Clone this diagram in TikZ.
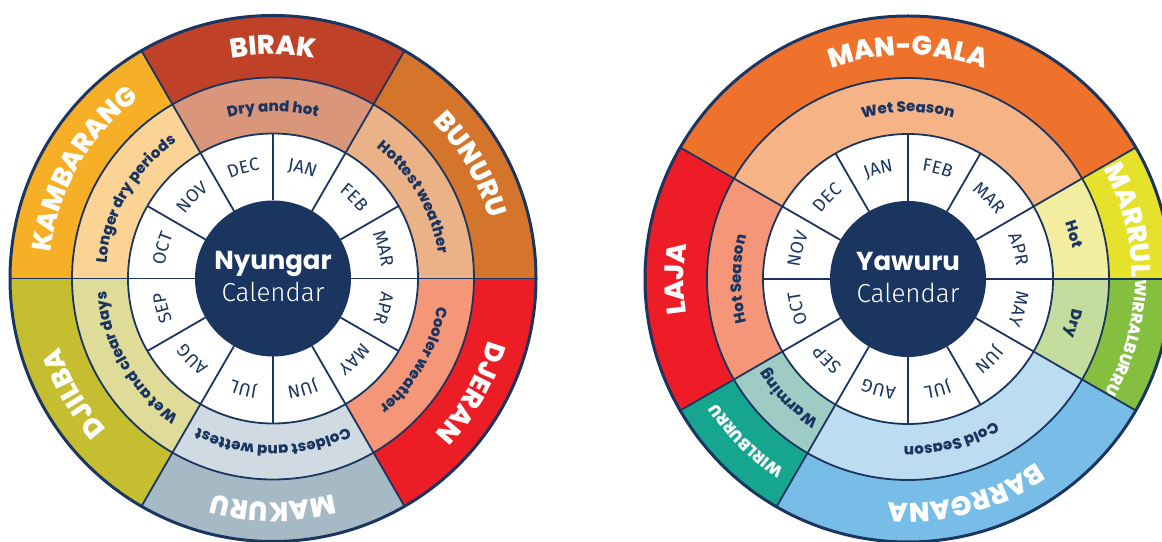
\documentclass[tikz,border=0pt]{standalone}
\usepackage{fontspec}
\setmainfont{Poppins}
\newfontfamily\heavyfamily{Poppins ExtraBold}
\newfontfamily\monthfamily{Fira Sans}
\newfontfamily\lightfamily{Fira Sans Light}
\usetikzlibrary{decorations.text}

\definecolor{navy}{HTML}{1A3660}
% Nyungar seasons
\definecolor{birak}{HTML}{BE4128}
\definecolor{bunuru}{HTML}{D5752C}
\definecolor{djeran}{HTML}{EC1D25}
\definecolor{makuru}{HTML}{A6BAC5}
\definecolor{djilba}{HTML}{C5BE31}
\definecolor{kambarang}{HTML}{F6AF27}
\definecolor{dryhot}{HTML}{D9967B}
\definecolor{hottest}{HTML}{EBB287}
\definecolor{cooler}{HTML}{F69679}
\definecolor{coldest}{HTML}{D0DAE2}
\definecolor{wetclear}{HTML}{DFDB99}
\definecolor{longerdry}{HTML}{FBD495}
% Yawuru seasons
\definecolor{mangala}{HTML}{EE712C}
\definecolor{marrul}{HTML}{E6E22B}
\definecolor{wirralburru}{HTML}{85BF40}
\definecolor{barrgana}{HTML}{78BDE8}
\definecolor{wirlburru}{HTML}{16A690}
\definecolor{laja}{HTML}{ED1C26}
\definecolor{wetseason}{HTML}{F6B386}
\definecolor{hotpale}{HTML}{F3EDA0}
\definecolor{drypale}{HTML}{C5DC9F}
\definecolor{coldseason}{HTML}{BCDCF2}
\definecolor{warming}{HTML}{9ECBC3}
\definecolor{hotseason}{HTML}{F69679}

\protected\def\namefont{\heavyfamily\fontsize{27}{27}\selectfont}
\protected\def\smallnamefont{\heavyfamily\fontsize{16}{16}\selectfont}
\protected\def\descfont{\heavyfamily\fontsize{15}{15}\selectfont}
\protected\def\monthfont{\monthfamily\fontsize{18}{18}\selectfont}

\tikzset{
  rim/.style={draw=navy, line width=3pt},
  ringline/.style={draw=navy, line width=1.8pt},
  spoke/.style={draw=navy, line width=1.8pt},
  hub/.style={circle, fill=navy, minimum size=156pt, inner sep=0pt},
  hubtitle/.style={anchor=base, text=white, font=\bfseries\fontsize{26}{26}\selectfont},
  hubsub/.style={anchor=base, text=white, font=\lightfamily\fontsize{26}{26}\selectfont},
}

% ring segment: colour, inner radius, outer radius, start angle, end angle
\newcommand{\ringpart}[5]{%
  \fill[#1] (#4:#3) arc[start angle=#4, end angle=#5, radius=#3]
    -- (#5:#2) arc[start angle=#5, end angle=#4, radius=#2] -- cycle;}

% curved text read clockwise: radius, centre angle, colour, text
\newcommand{\curvedlabel}[4]{%
  \edef\curvetxt{#4}%
  \path[decorate, decoration={text along path, text align=center,
      text color=#3, text/.expand once=\curvetxt}]
    ({#2+90}:#1) arc[start angle={#2+90}, end angle={#2-90}, radius=#1];}

\begin{document}
\begin{tikzpicture}[x=1pt, y=1pt]
\useasboundingbox (0,0) rectangle (1162,541);
\clip (0,0) rectangle (1162,541);

% Nyungar calendar
\begin{scope}[shift={(273,262.5)}]
  \ringpart{birak}{201}{263}{60}{120}
  \ringpart{bunuru}{201}{263}{0}{60}
  \ringpart{djeran}{201}{263}{-60}{0}
  \ringpart{makuru}{201}{263}{-120}{-60}
  \ringpart{djilba}{201}{263}{-180}{-120}
  \ringpart{kambarang}{201}{263}{120}{180}
  \ringpart{dryhot}{145}{201}{60}{120}
  \ringpart{hottest}{145}{201}{0}{60}
  \ringpart{cooler}{145}{201}{-60}{0}
  \ringpart{coldest}{145}{201}{-120}{-60}
  \ringpart{wetclear}{145}{201}{-180}{-120}
  \ringpart{longerdry}{145}{201}{120}{180}
  \fill[white] (0,0) circle[radius=145];
  \foreach \a in {0,60,...,300}
    \draw[spoke] (\a:145) -- (\a:263);
  \foreach \a in {0,30,...,330}
    \draw[spoke] (\a:78) -- (\a:145);
  \draw[ringline] (0,0) circle[radius=145] (0,0) circle[radius=201];
  \draw[rim] (0,0) circle[radius=263];
  \node[hub] (nyhub) at (0,0) {};
  \node[hubtitle] (nytitle) at (0,8.5) {Nyungar};
  \node[hubsub] (nysub) at (0,-23.5) {Calendar};

  \curvedlabel{224}{90}{white}{|\namefont|BIRAK}
  \curvedlabel{224}{30}{white}{|\namefont|BUNURU}
  \curvedlabel{224}{-30}{white}{|\namefont|DJERAN}
  \curvedlabel{224}{-90}{white}{|\namefont|MAKURU}
  \curvedlabel{224}{-150}{white}{|\namefont|DJILBA}
  \curvedlabel{224}{150}{white}{|\namefont|KAMBARANG}
  \curvedlabel{167}{90}{navy}{|\descfont|Dry and hot}
  \curvedlabel{167}{30}{navy}{|\descfont|Hottest weather}
  \curvedlabel{167}{-30}{navy}{|\descfont|Cooler weather}
  \curvedlabel{167}{-90}{navy}{|\descfont|Coldest and wettest}
  \curvedlabel{167}{-150}{navy}{|\descfont|Wet and clear days}
  \curvedlabel{167}{150}{navy}{|\descfont|Longer dry periods}
  \foreach \m [count=\i from 0] in {JAN,FEB,MAR,APR,MAY,JUN,JUL,AUG,SEP,OCT,NOV,DEC}
    {\curvedlabel{109}{75-30*\i}{navy}{|\monthfont|\m}}
\end{scope}

% Yawuru calendar
\begin{scope}[shift={(908,262)}]
  \ringpart{mangala}{201}{263}{30}{150}
  \ringpart{marrul}{201}{263}{0}{30}
  \ringpart{wirralburru}{201}{263}{-30}{0}
  \ringpart{barrgana}{201}{263}{-120}{-30}
  \ringpart{wirlburru}{201}{263}{-150}{-120}
  \ringpart{laja}{201}{263}{150}{210}
  \ringpart{wetseason}{145}{201}{30}{150}
  \ringpart{hotpale}{145}{201}{0}{30}
  \ringpart{drypale}{145}{201}{-30}{0}
  \ringpart{coldseason}{145}{201}{-120}{-30}
  \ringpart{warming}{145}{201}{-150}{-120}
  \ringpart{hotseason}{145}{201}{150}{210}
  \fill[white] (0,0) circle[radius=145];
  \foreach \a in {0,30,150,210,240,330}
    \draw[spoke] (\a:145) -- (\a:263);
  \foreach \a in {0,30,...,330}
    \draw[spoke] (\a:78) -- (\a:145);
  \draw[ringline] (0,0) circle[radius=145] (0,0) circle[radius=201];
  \draw[rim] (0,0) circle[radius=263];
  \node[hub] (yahub) at (0,0) {};
  \node[hubtitle] (yatitle) at (0,8.5) {Yawuru};
  \node[hubsub] (yasub) at (0,-23.5) {Calendar};

  \curvedlabel{224}{90}{white}{|\namefont|MAN-GALA}
  \curvedlabel{224}{15}{white}{|\namefont|MARRUL}
  \curvedlabel{227}{-15}{white}{|\smallnamefont|WIRRALBURRU}
  \curvedlabel{224}{-75}{white}{|\namefont|BARRGANA}
  \curvedlabel{227}{-135}{white}{|\smallnamefont|WIRLBURRU}
  \curvedlabel{224}{180}{white}{|\namefont|LAJA}
  \curvedlabel{167}{90}{navy}{|\descfont|Wet Season}
  \curvedlabel{167}{15}{navy}{|\descfont|Hot}
  \curvedlabel{167}{-15}{navy}{|\descfont|Dry}
  \curvedlabel{167}{-75}{navy}{|\descfont|Cold Season}
  \curvedlabel{167}{-135}{navy}{|\descfont|Warming}
  \curvedlabel{167}{180}{navy}{|\descfont|Hot Season}
  \foreach \m [count=\i from 0] in {JAN,FEB,MAR,APR,MAY,JUN,JUL,AUG,SEP,OCT,NOV,DEC}
    {\curvedlabel{109}{105-30*\i}{navy}{|\monthfont|\m}}
\end{scope}
\end{tikzpicture}
\end{document}
